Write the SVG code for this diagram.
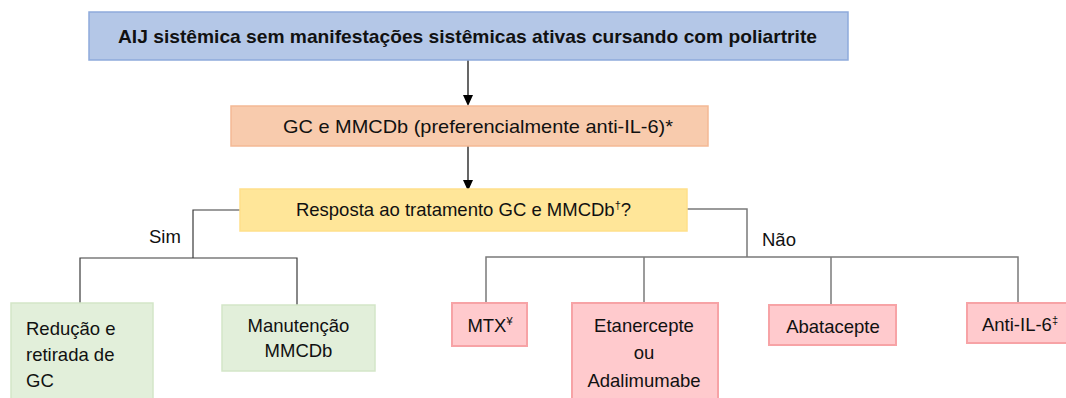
<svg xmlns="http://www.w3.org/2000/svg" width="1066" height="398" viewBox="0 0 1066 398">
<style>
text{font-family:"Liberation Sans",Arial,sans-serif;font-size:18.5px;fill:#111}
.t{font-weight:bold;font-size:19px}
.m{text-anchor:middle}
.blue{fill:#b4c7e7;stroke:#8eaadb;stroke-width:1.5}
.orange{fill:#f8cbad;stroke:#f4b995;stroke-width:1.5}
.yellow{fill:#ffe699;stroke:#ffe08a;stroke-width:1.5}
.green{fill:#e2efda;stroke:#d3e6c8;stroke-width:1.5}
.pink{fill:#ffcacd;stroke:#f7a3a6;stroke-width:2}
.cd{fill:none;stroke:#3a3a3a;stroke-width:1.2}
.cg{fill:none;stroke:#7a7a7a;stroke-width:1.5}
.ar{fill:none;stroke:#000;stroke-width:1.2}
.sup{font-size:11px}
</style>
<defs>
<marker id="ah" viewBox="0 0 10 11" refX="5" refY="11" markerWidth="10" markerHeight="11" markerUnits="userSpaceOnUse" orient="auto-start-reverse">
<path d="M0,0 L10,0 L5,11 Z" fill="#000"/>
</marker>
</defs>

<g id="connectors">
<path class="ar" d="M468,60 V95"/>
<path d="M463,95 H473 L468,106 Z" fill="#000"/>
<path class="ar" d="M468,146 V180"/>
<path d="M463,180 H473 L468,191 Z" fill="#000"/>
<path class="cd" d="M240,210 H193 V258"/>
<path class="cd" d="M80,303 V258 H297 V305"/>
<path class="cg" d="M687,209 H747 V257"/>
<path class="cg" d="M486,303 V257 H1018 V303"/>
<path class="cg" d="M644,257 V303"/>
<path class="cg" d="M831,257 V305"/>
<text x="149" y="243">Sim</text>
<text x="762" y="246">Não</text>
</g>

<g id="n1">
<rect class="blue" x="89" y="12" width="759" height="48"/>
<text class="t m" x="467.5" y="43" textLength="699" lengthAdjust="spacingAndGlyphs">AIJ sistêmica sem manifestações sistêmicas ativas cursando com poliartrite</text>
</g>
<g id="n2">
<rect class="orange" x="231" y="106" width="477" height="40"/>
<text class="m" x="478" y="133" textLength="390" lengthAdjust="spacingAndGlyphs">GC e MMCDb (preferencialmente anti-IL-6)*</text>
</g>
<g id="n3">
<rect class="yellow" x="240" y="189" width="447" height="42"/>
<text class="m" x="463.5" y="216">Resposta ao tratamento GC e MMCDb<tspan class="sup" dy="-7">†</tspan><tspan dy="7">?</tspan></text>
</g>
<g id="n4">
<rect class="green" x="11" y="303" width="142" height="100"/>
<text x="26" y="335">Redução e</text>
<text x="26" y="361">retirada de</text>
<text x="26" y="387">GC</text>
</g>
<g id="n5">
<rect class="green" x="222" y="305" width="153" height="66"/>
<text class="m" x="298.5" y="332">Manutenção</text>
<text class="m" x="298.5" y="357">MMCDb</text>
</g>
<g id="n6">
<rect class="pink" x="452" y="303" width="75" height="43"/>
<text class="m" x="490" y="332">MTX<tspan class="sup" dy="-7">¥</tspan></text>
</g>
<g id="n7">
<rect class="pink" x="572" y="303" width="146" height="100"/>
<text class="m" x="644" y="332">Etanercepte</text>
<text class="m" x="644" y="359">ou</text>
<text class="m" x="644" y="387">Adalimumabe</text>
</g>
<g id="n8">
<rect class="pink" x="769" y="305" width="127" height="40"/>
<text class="m" x="833" y="333">Abatacepte</text>
</g>
<g id="n9">
<rect class="pink" x="967" y="303" width="110" height="40"/>
<text class="m" x="1020" y="331">Anti-IL-6<tspan class="sup" dy="-7">‡</tspan></text>
</g>
</svg>
